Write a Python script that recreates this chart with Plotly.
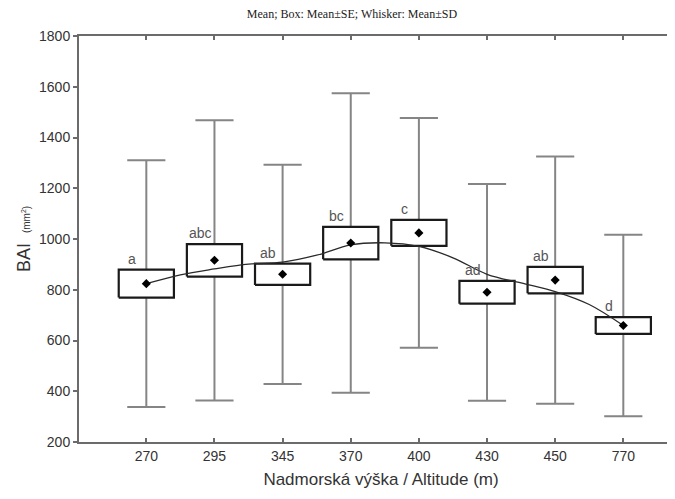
import plotly.graph_objects as go

# ---- data ----
altitudes = ["270", "295", "345", "370", "400", "430", "450", "770"]
means = [824, 916, 861, 984, 1024, 790, 838, 659]
se = [55, 64, 42, 64, 51, 45, 52, 33]
sd = [486, 552, 432, 590, 453, 427, 487, 358]
letters = ["a", "abc", "ab", "bc", "c", "ad", "ab", "d"]

curve_x = [1, 1.5, 2, 2.5, 3, 3.5, 4, 4.5, 5, 5.5, 6, 6.5, 7, 7.5, 8]
curve_y = [824, 859, 882, 901, 909, 936, 977, 985, 971, 926, 861, 827, 793, 742, 659]

# ---- style constants ----
BOX_HALF = 0.405
CAP_HALF = 0.28
LETTER_DX = -0.21
AXIS_COL = "#6b6b6b"
TEXT_COL = "#333333"
FONT = "Liberation Sans, Arial, sans-serif"
Y_OFF = 8  # page top margin

xs = list(range(1, len(altitudes) + 1))

# whiskers (vertical + caps)
wx, wy = [], []
for x, m, s in zip(xs, means, sd):
    wx += [x, x, None, x - CAP_HALF, x + CAP_HALF, None, x - CAP_HALF, x + CAP_HALF, None]
    wy += [m - s, m + s, None, m + s, m + s, None, m - s, m - s, None]

fig = go.Figure()
fig.add_trace(go.Scatter(x=wx, y=wy, mode="lines",
                         line=dict(color="#858585", width=2),
                         hoverinfo="skip", showlegend=False))

# boxes (mean ± SE)
for x, m, e in zip(xs, means, se):
    fig.add_trace(go.Scatter(
        x=[x - BOX_HALF, x + BOX_HALF, x + BOX_HALF, x - BOX_HALF, x - BOX_HALF],
        y=[m - e, m - e, m + e, m + e, m - e],
        mode="lines", fill="toself", fillcolor="white",
        line=dict(color="#1a1a1a", width=2.2),
        hoverinfo="skip", showlegend=False))

# smoothing curve
fig.add_trace(go.Scatter(x=curve_x, y=curve_y, mode="lines",
                         line=dict(color="#2a2a2a", width=1.3, shape="spline", smoothing=1),
                         hoverinfo="skip", showlegend=False))

# mean markers
fig.add_trace(go.Scatter(x=xs, y=means, mode="markers",
                         marker=dict(symbol="diamond", size=7, color="black"),
                         showlegend=False))

# right-side mirror axis holder
fig.add_trace(go.Scatter(x=[xs[0]], y=[means[0]], yaxis="y2", mode="markers",
                         marker=dict(opacity=0), hoverinfo="skip", showlegend=False))

# letters
for x, m, e, t in zip(xs, means, se, letters):
    fig.add_annotation(x=x + LETTER_DX, y=m + e, text=t, showarrow=False,
                       xanchor="center", yanchor="bottom", yshift=1,
                       font=dict(family=FONT, size=14, color="#555555"))

W, H = 675, 499 - Y_OFF
fig.update_layout(
    width=W, height=H,
    margin=dict(l=71, r=0, t=36 - Y_OFF, b=57),
    paper_bgcolor="white", plot_bgcolor="white",
    font=dict(family=FONT, color=TEXT_COL),
    title=dict(text="Mean; Box: Mean±SE; Whisker: Mean±SD",
               font=dict(family="Liberation Serif, Times New Roman, serif", size=12, color="#222222"),
               x=344 / W, xref="container", xanchor="center",
               y=1 - (14 - Y_OFF) / H, yref="container", yanchor="middle"),
    xaxis=dict(range=[0.012, 8.876], tickvals=xs, ticktext=altitudes,
               showgrid=False, zeroline=False,
               showline=True, linecolor=AXIS_COL, linewidth=2, mirror="ticks",
               ticks="inside", ticklen=4, tickcolor=AXIS_COL, tickwidth=1.5,
               tickfont=dict(size=14, color=TEXT_COL),
               title=dict(text="Nadmorská výška / Altitude (m)",
                          font=dict(size=17, color=TEXT_COL), standoff=10)),
    yaxis=dict(range=[200, 1800], tickvals=[200, 400, 600, 800, 1000, 1200, 1400, 1600, 1800],
               showgrid=False, zeroline=False,
               showline=True, linecolor=AXIS_COL, linewidth=2,
               ticks="outside", ticklen=4, tickcolor=AXIS_COL, tickwidth=1.5,
               tickfont=dict(size=14, color=TEXT_COL),
               title=dict(text="BAI  <span style='font-size:10px'>(mm<sup>2</sup>)</span>",
                          font=dict(size=18, color=TEXT_COL), standoff=4)),
    yaxis2=dict(range=[200, 1800], overlaying="y", side="right", anchor="x",
                tickvals=[200, 400, 600, 800, 1000, 1200, 1400, 1600, 1800],
                showticklabels=False, showgrid=False, zeroline=False,
                showline=True, linecolor=AXIS_COL, linewidth=2,
                ticks="inside", ticklen=4, tickcolor=AXIS_COL, tickwidth=1.5),
)

fig.write_html("out.html")
